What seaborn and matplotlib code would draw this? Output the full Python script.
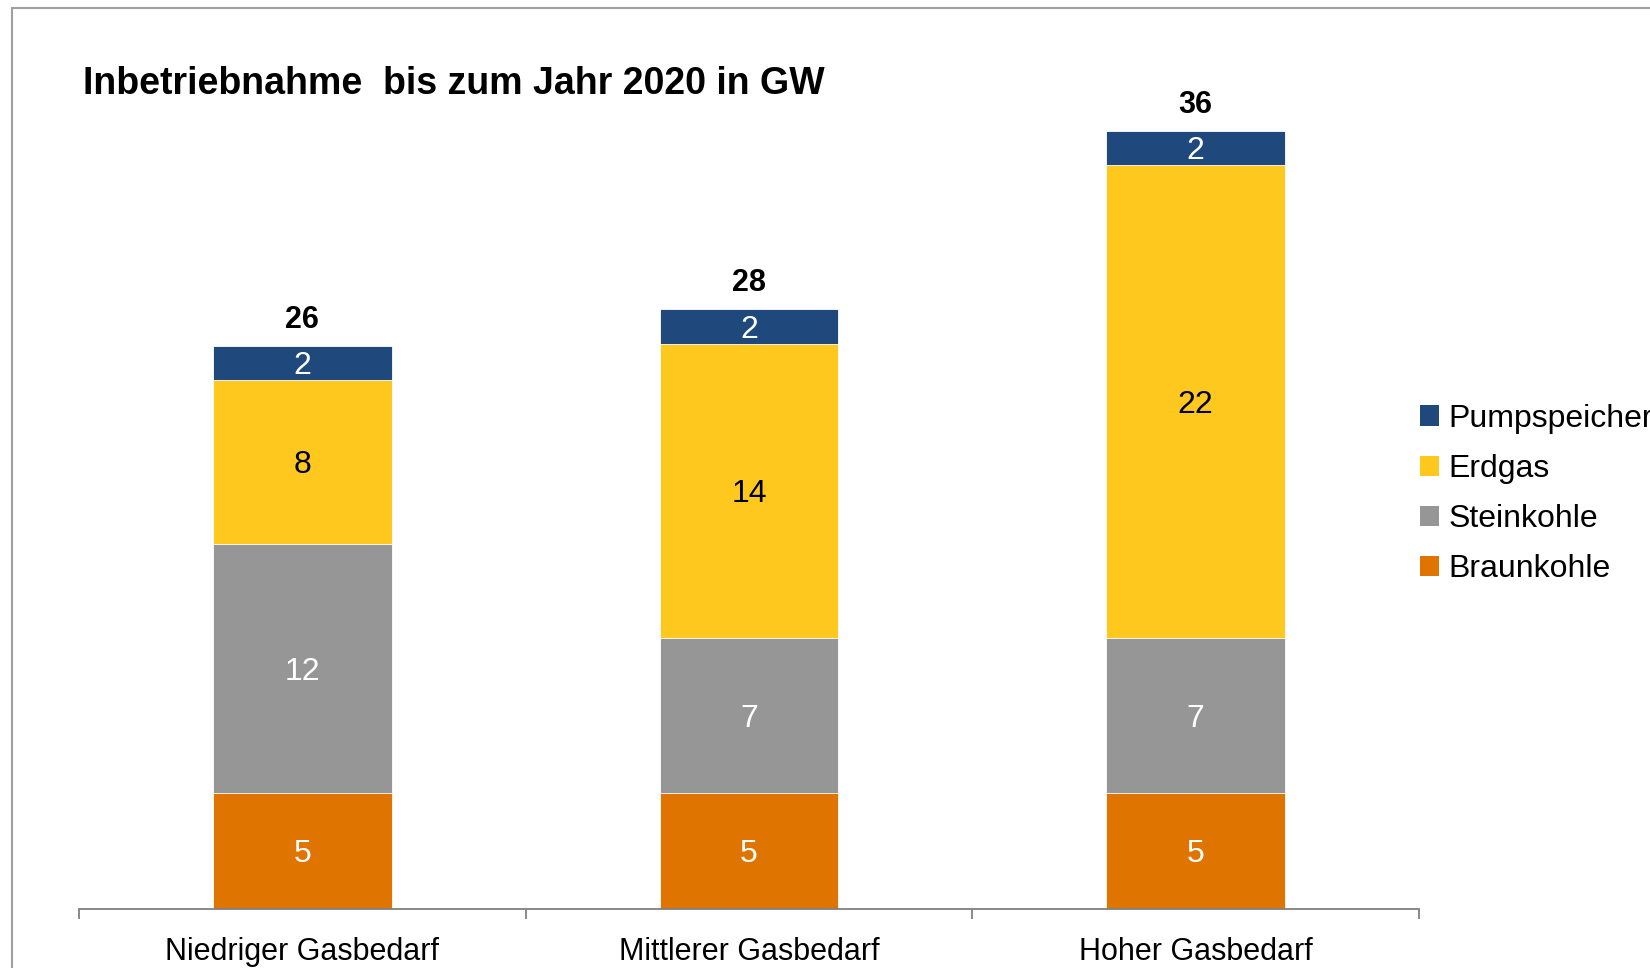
import matplotlib.pyplot as plt
import pandas as pd
import seaborn as sns
from matplotlib.patches import Patch, Rectangle

# Data (GW); labels show rounded values
szenarien = ["Niedriger Gasbedarf", "Mittlerer Gasbedarf", "Hoher Gasbedarf"]
braunkohle = [5.4, 5.4, 5.4]
steinkohle = [11.6, 7.2, 7.2]
erdgas = [7.6, 13.7, 22.0]
pumpspeicher = [1.6, 1.6, 1.6]

traeger = ["Braunkohle", "Steinkohle", "Erdgas", "Pumpspeicher"]
farben = {
    "Braunkohle": "#e07400",
    "Steinkohle": "#969696",
    "Erdgas": "#fec81e",
    "Pumpspeicher": "#1f497d",
}
textfarben = {"Braunkohle": "white", "Steinkohle": "white",
              "Erdgas": "black", "Pumpspeicher": "white"}

df = pd.DataFrame({
    "Szenario": szenarien,
    "Braunkohle": braunkohle,
    "Steinkohle": steinkohle,
    "Erdgas": erdgas,
    "Pumpspeicher": pumpspeicher,
})
cum = df[traeger].cumsum(axis=1)
cum["Szenario"] = df["Szenario"]

sns.set_style("white")
plt.rcParams["font.family"] = ["Liberation Sans", "DejaVu Sans"]
plt.rcParams["text.color"] = "black"
plt.rcParams["xtick.color"] = "black"

fig = plt.figure(figsize=(16.5, 9.68), dpi=100)
ax = fig.add_axes([79 / 1650, 59 / 968, (1419 - 79) / 1650, 860 / 968])

# Stacked bars: draw cumulative totals from the top layer down
for t in reversed(traeger):
    sns.barplot(data=cum, x="Szenario", y=t, color=farben[t], width=0.4,
                saturation=1, ax=ax, edgecolor="white", linewidth=0.6)

ax.set_xlim(-0.5, 2.5)
ax.set_ylim(0, 40)

# Segment labels
for i in range(len(szenarien)):
    unten = 0
    for t in traeger:
        wert = df.loc[i, t]
        ax.text(i, unten + wert / 2, f"{round(wert):d}", ha="center",
                va="center_baseline", fontsize=23, color=textfarben[t])
        unten += wert
    ax.annotate(f"{round(unten):d}", (i, unten), xytext=(0, 21),
                textcoords="offset points", ha="center", va="center_baseline",
                fontsize=22, fontweight="bold", color="black")

# Axis styling
for s in ["left", "top", "right"]:
    ax.spines[s].set_visible(False)
ax.spines["bottom"].set_color("#808080")
ax.spines["bottom"].set_linewidth(1.3)
ax.set_yticks([])
ax.set_xlabel("")
ax.set_ylabel("")
ax.set_xticks([-0.5, 0.5, 1.5, 2.5], minor=True)
ax.tick_params(axis="x", which="minor", bottom=True, length=7, width=1.3,
               color="#808080", direction="out")
ax.tick_params(axis="x", which="major", length=0, pad=20, labelsize=22,
               labelcolor="black")

ax.set_title("")
fig.text(83 / 1650, 1 - 84 / 968, "Inbetriebnahme  bis zum Jahr 2020 in GW",
         fontsize=27, fontweight="bold", ha="left", va="center", color="black")

# Legend (top to bottom: Pumpspeicher ... Braunkohle)
handles = [Patch(facecolor=farben[t], edgecolor="none", label=t)
           for t in reversed(traeger)]
fig.legend(handles=handles, loc="center left",
           bbox_to_anchor=(1420 / 1650, 1 - 494 / 968), frameon=False,
           fontsize=23, handlelength=0.6, handleheight=0.6, handletextpad=0.3,
           labelspacing=0.63, borderaxespad=0, borderpad=0,
           labelcolor="black")

# Outer frame (image is cropped, so only top and left edges show)
fig.add_artist(Rectangle((12 / 1650, -0.5), 2, 0.5 + 1 - 8 / 968,
                         transform=fig.transFigure, fill=False,
                         edgecolor="#a0a0a0", linewidth=1.5))

fig.savefig("out.png", dpi=100)
